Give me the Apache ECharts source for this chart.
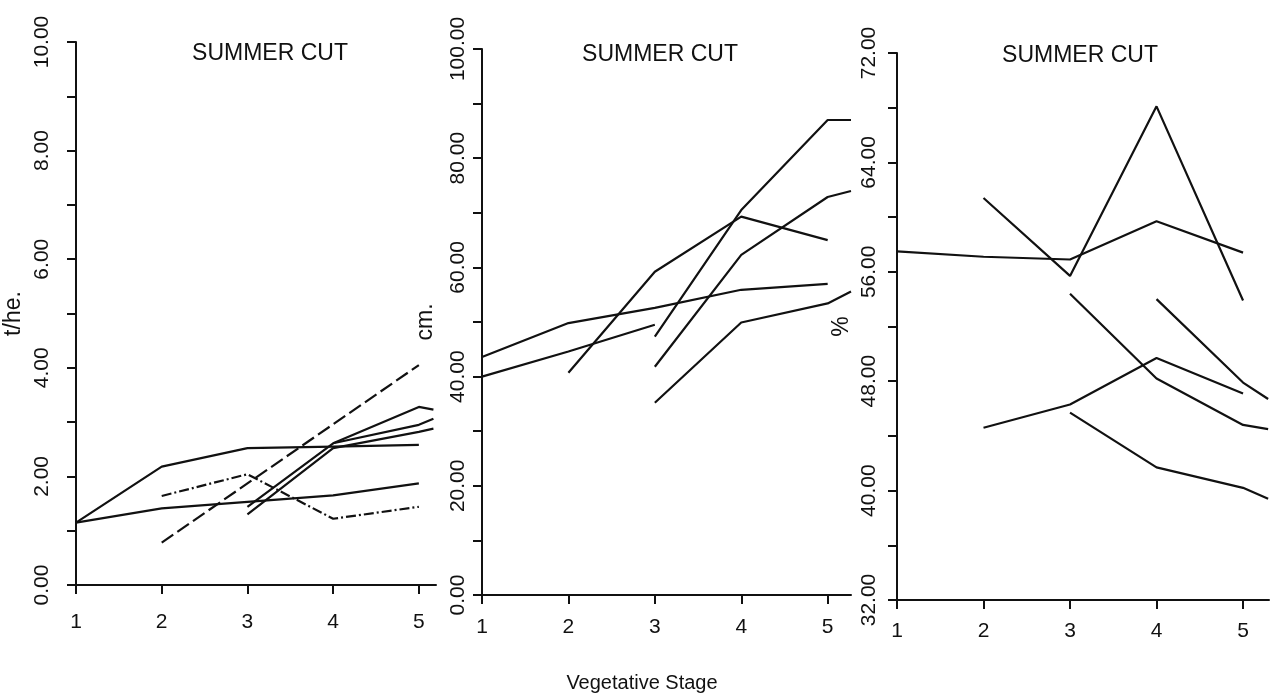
<!DOCTYPE html>
<html>
<head>
<meta charset="utf-8">
<title>Summer cut</title>
<script src="https://cdn.jsdelivr.net/npm/echarts@6/dist/echarts.min.js"></script>
<style>
  html, body { margin: 0; padding: 0; background: #fff; }
  #chart { width: 1274px; height: 700px; }
</style>
</head>
<body>
<div id="chart"></div>
<script>
// vegetative stage positions; the last entry is the short run-out past stage 5
const stageTicks = [1, 2, 3, 4, 5]
const yieldX = [1, 2, 3, 4, 5, 5.17]
const heightX = [1, 2, 3, 4, 5, 5.27]
const pctX = [1, 2, 3, 4, 5, 5.29]

// panel 1: yield, t/he.
const yieldA = [1.15, 2.18, 2.52, 2.55, 2.58, null]
const yieldB = [1.15, 1.41, 1.53, 1.65, 1.87, null]
const yieldC = [null, 1.64, 2.04, 1.22, 1.44, null]
const yieldD = [null, 0.78, 1.87, 2.96, 4.05, null]
const yieldE = [null, null, 1.44, 2.61, 3.28, 3.23]
const yieldF = [null, null, null, 2.61, 2.95, 3.06]
const yieldG = [null, null, 1.30, 2.52, 2.82, 2.88]

// panel 2: plant height, cm.
const heightA = [null, 40.7, 59.2, 69.3, 65.0, null]
const heightB = [null, null, 47.3, 70.5, 87.0, 87.0]
const heightC = [null, null, 41.8, 62.3, 72.9, 74.0]
const heightD = [null, null, 35.2, 49.9, 53.4, 55.6]
const heightE = [43.6, 49.8, 52.6, 55.9, 57.0, null]
const heightF = [40.0, 44.6, 49.5, null, null, null]

// panel 3: percent
const pctA = [57.5, 57.1, 56.9, 59.7, 57.4, null]
const pctB = [null, 61.4, 55.7, 68.1, 53.9, null]
const pctC = [null, null, 54.4, 48.2, 44.8, 44.5]
const pctD = [null, null, null, 54.0, 47.9, 46.7]
const pctE = [null, 44.6, 46.3, 49.7, 47.1, null]
const pctF = [null, null, 45.7, 41.7, 40.2, 39.4]

const ink = '#111'
const font = "'Liberation Sans', Arial, Helvetica, sans-serif"

function pts(xs, ys) {
  const out = []
  ys.forEach((v, i) => { if (v !== null) out.push([xs[i], v]) })
  return out
}

function line(idx, xs, ys, dash) {
  return {
    type: 'line',
    xAxisIndex: idx,
    yAxisIndex: idx,
    data: pts(xs, ys),
    symbol: 'none',
    clip: false,
    silent: true,
    animation: false,
    lineStyle: { color: ink, width: 2.2, type: dash || 'solid' },
  }
}

function xAxis(idx, max, margin) {
  return {
    type: 'value',
    gridIndex: idx,
    min: 1,
    max: max,
    axisLine: { show: true, onZero: false, lineStyle: { color: ink, width: 2 } },
    axisTick: { show: true, customValues: stageTicks, length: 9, lineStyle: { color: ink, width: 2 } },
    axisLabel: { customValues: stageTicks, fontSize: 21, margin: margin, color: ink, fontFamily: font },
    splitLine: { show: false },
  }
}

function yAxis(idx, min, max, step, every, name, gap, margin) {
  return {
    type: 'value',
    gridIndex: idx,
    min: min,
    max: max,
    interval: step,
    name: name,
    nameLocation: 'middle',
    nameRotate: 90,
    nameGap: gap,
    nameTextStyle: { fontSize: 23, color: ink, fontFamily: font },
    axisLine: { show: true, lineStyle: { color: ink, width: 2 } },
    axisTick: { show: true, length: 9, lineStyle: { color: ink, width: 2 } },
    axisLabel: {
      rotate: 90,
      margin: margin,
      fontSize: 21,
      color: ink,
      fontFamily: font,
      formatter: (v) => (Math.round((v - min) / step) % every === 0 ? v.toFixed(2) : ''),
    },
    splitLine: { show: false },
  }
}

function title(text, cx, top, size) {
  return {
    text: text,
    left: cx,
    top: top,
    textAlign: 'center',
    padding: 0,
    textStyle: { fontSize: size, fontWeight: 'normal', color: ink, fontFamily: font },
  }
}

const chart = echarts.init(document.getElementById('chart'), null, { renderer: 'canvas' })

chart.setOption({
  backgroundColor: '#fff',
  animation: false,
  title: [
    title('SUMMER CUT', 270, 42, 23),
    title('SUMMER CUT', 660, 43, 23),
    title('SUMMER CUT', 1080, 44, 23),
    title('Vegetative Stage', 642, 673, 20),
  ],
  grid: [
    { left: 76, top: 42, width: 360, height: 543, outerBoundsMode: 'none' },
    { left: 482, top: 49, width: 369, height: 546, outerBoundsMode: 'none' },
    { left: 897, top: 53, width: 372, height: 547, outerBoundsMode: 'none' },
  ],
  xAxis: [xAxis(0, 5.2, 27), xAxis(1, 5.27, 22), xAxis(2, 5.3, 21)],
  yAxis: [
    yAxis(0, 0, 10, 1, 2, 't/he.', 51, 23),
    yAxis(1, 0, 100, 10, 2, 'cm.', 45, 13),
    yAxis(2, 32, 72, 4, 2, '%', 44, 17),
  ],
  series: [
    line(0, yieldX, yieldA),
    line(0, yieldX, yieldB),
    line(0, yieldX, yieldC, [10, 3, 2, 3]),
    line(0, yieldX, yieldD, [14, 5]),
    line(0, yieldX, yieldE),
    line(0, yieldX, yieldF),
    line(0, yieldX, yieldG),
    line(1, heightX, heightA),
    line(1, heightX, heightB),
    line(1, heightX, heightC),
    line(1, heightX, heightD),
    line(1, heightX, heightE),
    line(1, heightX, heightF),
    line(2, pctX, pctA),
    line(2, pctX, pctB),
    line(2, pctX, pctC),
    line(2, pctX, pctD),
    line(2, pctX, pctE),
    line(2, pctX, pctF),
  ],
})

window.addEventListener('resize', () => chart.resize())
</script>
</body>
</html>
